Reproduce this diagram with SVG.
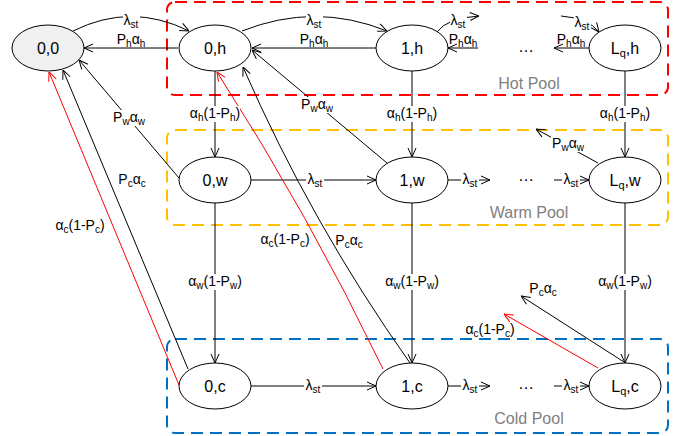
<svg xmlns="http://www.w3.org/2000/svg" width="694" height="436" viewBox="0 0 694 436">
<style>
.pool{fill:none;stroke-width:2;stroke-dasharray:12 7}
.node{fill:#fff;stroke:#000;stroke-width:1}
.nl{font-family:"Liberation Sans",Arial,sans-serif;font-size:16px;fill:#000;text-anchor:middle}
.el{font-family:"Liberation Sans",Arial,sans-serif;font-size:14px;fill:#000;text-anchor:middle}
.bg{fill:#fff;stroke:none}
.pl{font-family:"Liberation Sans",Arial,sans-serif;font-size:16px;fill:#808080;text-anchor:middle}
.e{fill:none;stroke:#000;stroke-width:1;marker-end:url(#ab)}
.r{fill:none;stroke:#f00;stroke-width:1;marker-end:url(#ar)}
.sub{font-size:10px}
</style>
<defs>
<marker id="ab" viewBox="0 0 10 10" refX="10" refY="5" markerWidth="10" markerHeight="10" markerUnits="userSpaceOnUse" orient="auto">
<path d="M1,1 L10,5 L1,9" fill="none" stroke="#000" stroke-width="1"/>
</marker>
<marker id="ar" viewBox="0 0 10 10" refX="10" refY="5" markerWidth="10" markerHeight="10" markerUnits="userSpaceOnUse" orient="auto">
<path d="M1,1 L10,5 L1,9" fill="none" stroke="#f00" stroke-width="1"/>
</marker>
</defs>
<rect width="694" height="436" fill="#fff"/>
<g id="pools">
<rect class="pool" x="167" y="2" width="501" height="93" rx="8" stroke="#ff0000"/>
<rect class="pool" x="167" y="130" width="501" height="95" rx="8" stroke="#ffc000"/>
<rect class="pool" x="167" y="339" width="501" height="94" rx="8" stroke="#0070c0"/>
<text class="pl" x="529" y="89">Hot Pool</text>
<text class="pl" x="529" y="218">Warm Pool</text>
<text class="pl" x="529" y="424">Cold Pool</text>
</g>
<g id="connectors">
<path class="e" d="M73,31 Q131,2 189,31"/>
<path class="e" d="M242,31 Q315,2 387,31"/>
<path class="e" d="M178,48 L84,48"/>
<path class="e" d="M376,48 L252,48"/>
<path class="e" d="M437,32 Q447,18 479,16"/>
<path class="e" d="M478,48 L448,48"/>
<path class="e" d="M561,16 Q588,18 599,32"/>
<path class="e" d="M589,48 L554,48"/>
<path class="e" d="M215,71 L215,157"/>
<path class="e" d="M412,71 L412,157"/>
<path class="e" d="M625,71 L625,157"/>
<path class="e" d="M215,203 L215,363"/>
<path class="e" d="M412,203 L412,363"/>
<path class="e" d="M625,203 L625,363"/>
<path class="e" d="M251,180 L376,180"/>
<path class="e" d="M448,180 L490,180"/>
<path class="e" d="M554,180 L589,180"/>
<path class="e" d="M251,386 L376,386"/>
<path class="e" d="M448,386 L490,386"/>
<path class="e" d="M554,386 L589,386"/>
<path class="e" d="M179,178 L79,60"/>
<path class="e" d="M387,163 L252,50"/>
<path class="e" d="M598,163 L536,129"/>
<path class="r" d="M179,385 L49,72"/>
<path class="e" d="M188,369 L63,70"/>
<path class="r" d="M383,369 Q309,215 217,72"/>
<path class="e" d="M410,363 Q311,223 243,67"/>
<path class="r" d="M598,368 L504,314"/>
<path class="e" d="M624,362 L521,296"/>
</g>
<g id="labels">
<rect class="bg" x="123" y="13" width="17" height="15"/>
<rect class="bg" x="306" y="13" width="17" height="15"/>
<rect class="bg" x="450" y="13" width="17" height="15"/>
<rect class="bg" x="574" y="15" width="17" height="15"/>
<rect class="bg" x="190" y="106" width="50" height="16"/>
<rect class="bg" x="387" y="106" width="50" height="16"/>
<rect class="bg" x="600" y="106" width="50" height="16"/>
<rect class="bg" x="188" y="274" width="54" height="16"/>
<rect class="bg" x="385" y="274" width="54" height="16"/>
<rect class="bg" x="598" y="274" width="54" height="16"/>
<rect class="bg" x="306" y="173" width="18" height="15"/>
<rect class="bg" x="461" y="173" width="18" height="15"/>
<rect class="bg" x="562" y="173" width="18" height="15"/>
<rect class="bg" x="304" y="379" width="18" height="15"/>
<rect class="bg" x="461" y="379" width="18" height="15"/>
<rect class="bg" x="562" y="379" width="18" height="15"/>
<rect class="bg" x="112" y="110" width="34" height="16"/>
<rect class="bg" x="300" y="97" width="34" height="16"/>
<rect class="bg" x="551" y="136" width="34" height="16"/>
<text class="el" x="131" y="25">λ<tspan class="sub" dy="3">st</tspan></text>
<text class="el" x="314" y="25">λ<tspan class="sub" dy="3">st</tspan></text>
<text class="el" x="458" y="25">λ<tspan class="sub" dy="3">st</tspan></text>
<text class="el" x="582" y="27">λ<tspan class="sub" dy="3">st</tspan></text>
<text class="el" x="131" y="44">P<tspan class="sub" dy="3">h</tspan><tspan dy="-3">α</tspan><tspan class="sub" dy="3">h</tspan></text>
<text class="el" x="314" y="44">P<tspan class="sub" dy="3">h</tspan><tspan dy="-3">α</tspan><tspan class="sub" dy="3">h</tspan></text>
<text class="el" x="463" y="44">P<tspan class="sub" dy="3">h</tspan><tspan dy="-3">α</tspan><tspan class="sub" dy="3">h</tspan></text>
<text class="el" x="571" y="44">P<tspan class="sub" dy="3">h</tspan><tspan dy="-3">α</tspan><tspan class="sub" dy="3">h</tspan></text>
<text class="el" x="215" y="118">α<tspan class="sub" dy="3">h</tspan><tspan dy="-3">(1-P</tspan><tspan class="sub" dy="3">h</tspan><tspan dy="-3">)</tspan></text>
<text class="el" x="412" y="118">α<tspan class="sub" dy="3">h</tspan><tspan dy="-3">(1-P</tspan><tspan class="sub" dy="3">h</tspan><tspan dy="-3">)</tspan></text>
<text class="el" x="625" y="118">α<tspan class="sub" dy="3">h</tspan><tspan dy="-3">(1-P</tspan><tspan class="sub" dy="3">h</tspan><tspan dy="-3">)</tspan></text>
<text class="el" x="215" y="286">α<tspan class="sub" dy="3">w</tspan><tspan dy="-3">(1-P</tspan><tspan class="sub" dy="3">w</tspan><tspan dy="-3">)</tspan></text>
<text class="el" x="412" y="286">α<tspan class="sub" dy="3">w</tspan><tspan dy="-3">(1-P</tspan><tspan class="sub" dy="3">w</tspan><tspan dy="-3">)</tspan></text>
<text class="el" x="625" y="286">α<tspan class="sub" dy="3">w</tspan><tspan dy="-3">(1-P</tspan><tspan class="sub" dy="3">w</tspan><tspan dy="-3">)</tspan></text>
<text class="el" x="315" y="184">λ<tspan class="sub" dy="3">st</tspan></text>
<text class="el" x="470" y="184">λ<tspan class="sub" dy="3">st</tspan></text>
<text class="el" x="571" y="184">λ<tspan class="sub" dy="3">st</tspan></text>
<text class="el" x="313" y="390">λ<tspan class="sub" dy="3">st</tspan></text>
<text class="el" x="470" y="390">λ<tspan class="sub" dy="3">st</tspan></text>
<text class="el" x="571" y="390">λ<tspan class="sub" dy="3">st</tspan></text>
<text class="el" x="129" y="122">P<tspan class="sub" dy="3">w</tspan><tspan dy="-3">α</tspan><tspan class="sub" dy="3">w</tspan></text>
<text class="el" x="317" y="109">P<tspan class="sub" dy="3">w</tspan><tspan dy="-3">α</tspan><tspan class="sub" dy="3">w</tspan></text>
<text class="el" x="568" y="148">P<tspan class="sub" dy="3">w</tspan><tspan dy="-3">α</tspan><tspan class="sub" dy="3">w</tspan></text>
<text class="el" x="132" y="184">P<tspan class="sub" dy="3">c</tspan><tspan dy="-3">α</tspan><tspan class="sub" dy="3">c</tspan></text>
<text class="el" x="80" y="230">α<tspan class="sub" dy="3">c</tspan><tspan dy="-3">(1-P</tspan><tspan class="sub" dy="3">c</tspan><tspan dy="-3">)</tspan></text>
<text class="el" x="285" y="244">α<tspan class="sub" dy="3">c</tspan><tspan dy="-3">(1-P</tspan><tspan class="sub" dy="3">c</tspan><tspan dy="-3">)</tspan></text>
<text class="el" x="349" y="245">P<tspan class="sub" dy="3">c</tspan><tspan dy="-3">α</tspan><tspan class="sub" dy="3">c</tspan></text>
<text class="el" x="543" y="293">P<tspan class="sub" dy="3">c</tspan><tspan dy="-3">α</tspan><tspan class="sub" dy="3">c</tspan></text>
<text class="el" x="490" y="334">α<tspan class="sub" dy="3">c</tspan><tspan dy="-3">(1-P</tspan><tspan class="sub" dy="3">c</tspan><tspan dy="-3">)</tspan></text>
<text class="nl" x="526" y="52">…</text>
<text class="nl" x="526" y="181">…</text>
<text class="nl" x="526" y="389">…</text>
</g>
<g id="n00"><ellipse cx="48" cy="48" rx="36" ry="23" fill="#f0f0f0" stroke="#000"/><text class="nl" x="48" y="54">0,0</text></g>
<g id="n0h"><ellipse class="node" cx="215" cy="48" rx="36" ry="23"/><text class="nl" x="215" y="54">0,h</text></g>
<g id="n1h"><ellipse class="node" cx="412" cy="48" rx="36" ry="23"/><text class="nl" x="412" y="54">1,h</text></g>
<g id="nLh"><ellipse class="node" cx="625" cy="48" rx="36" ry="23"/><text class="nl" x="625" y="54">L<tspan font-size="11" dy="3">q</tspan><tspan dy="-3">,h</tspan></text></g>
<g id="n0w"><ellipse class="node" cx="215" cy="180" rx="36" ry="23"/><text class="nl" x="215" y="186">0,w</text></g>
<g id="n1w"><ellipse class="node" cx="412" cy="180" rx="36" ry="23"/><text class="nl" x="412" y="186">1,w</text></g>
<g id="nLw"><ellipse class="node" cx="625" cy="180" rx="36" ry="23"/><text class="nl" x="625" y="186">L<tspan font-size="11" dy="3">q</tspan><tspan dy="-3">,w</tspan></text></g>
<g id="n0c"><ellipse class="node" cx="215" cy="386" rx="36" ry="23"/><text class="nl" x="215" y="392">0,c</text></g>
<g id="n1c"><ellipse class="node" cx="412" cy="386" rx="36" ry="23"/><text class="nl" x="412" y="392">1,c</text></g>
<g id="nLc"><ellipse class="node" cx="625" cy="386" rx="36" ry="23"/><text class="nl" x="625" y="392">L<tspan font-size="11" dy="3">q</tspan><tspan dy="-3">,c</tspan></text></g>
</svg>
